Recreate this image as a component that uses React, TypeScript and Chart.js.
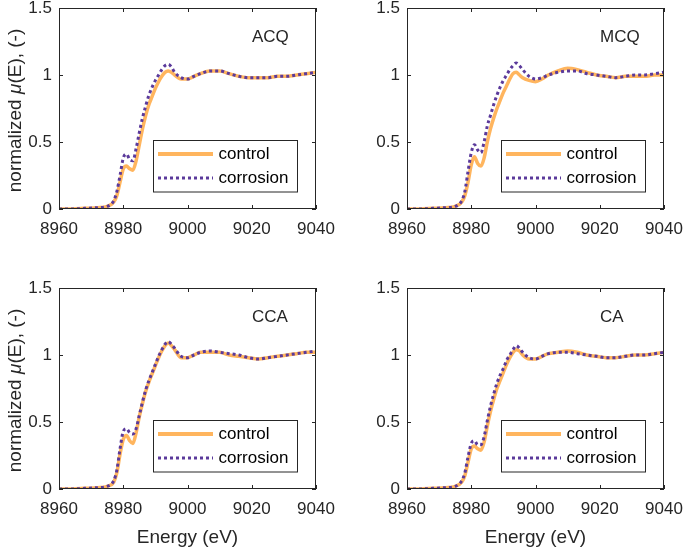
import React, { useEffect, useRef } from "react";
import { Chart, registerables } from "chart.js";

Chart.register(...registerables);

// ---------- data ----------
const energy = [
  8960, 8964, 8968, 8972, 8975, 8977, 8978, 8979, 8980, 8981, 8982, 8983, 8984, 8985, 8986, 8987,
  8988, 8989, 8990, 8991, 8992, 8993, 8994, 8995, 8996, 8998, 9000, 9002, 9004, 9007, 9010, 9013,
  9016, 9019, 9022, 9025, 9028, 9031, 9034, 9037, 9040,
];

const acqControl = [
  0, 0, 0.005, 0.01, 0.02, 0.05, 0.1, 0.2, 0.3, 0.32, 0.3, 0.29, 0.36, 0.48, 0.6, 0.7,
  0.78, 0.84, 0.9, 0.95, 0.99, 1.02, 1.03, 1.02, 1.0, 0.97, 0.97, 0.99, 1.01, 1.03, 1.03, 1.01,
  0.99, 0.98, 0.98, 0.98, 0.99, 0.99, 1.0, 1.01, 1.02,
];
const acqCorrosion = [
  0, 0, 0.005, 0.01, 0.02, 0.06, 0.13, 0.25, 0.38, 0.41, 0.37, 0.36, 0.45, 0.57, 0.68, 0.77,
  0.85, 0.91, 0.96, 1.0, 1.04, 1.07, 1.08, 1.06, 1.02, 0.98, 0.97, 0.99, 1.01, 1.03, 1.03, 1.01,
  0.99, 0.98, 0.98, 0.98, 0.99, 0.99, 1.0, 1.01, 1.02,
];

const mcqControl = [
  0, 0, 0.005, 0.01, 0.02, 0.05, 0.1, 0.2, 0.33, 0.39, 0.34, 0.32, 0.38, 0.5, 0.6, 0.68,
  0.75, 0.81, 0.87, 0.92, 0.97, 1.01, 1.02, 1.0, 0.98, 0.96, 0.95, 0.97, 1.0, 1.03, 1.05, 1.04,
  1.02, 1.0, 0.99, 0.98, 0.99, 0.99, 0.99, 1.0, 1.0,
];
const mcqCorrosion = [
  0, 0, 0.005, 0.01, 0.02, 0.06, 0.13, 0.28, 0.42, 0.48, 0.44, 0.42, 0.5, 0.62, 0.7, 0.78,
  0.85, 0.91, 0.96, 1.0, 1.04, 1.07, 1.09, 1.07, 1.04, 0.99, 0.97, 0.98, 1.0, 1.02, 1.03, 1.03,
  1.01, 1.0, 0.99, 0.98, 0.99, 1.0, 1.0, 1.01, 1.02,
];

const ccaControl = [
  0, 0, 0.005, 0.01, 0.02, 0.05, 0.12, 0.26, 0.37, 0.4, 0.36, 0.34, 0.42, 0.54, 0.64, 0.73,
  0.8, 0.86, 0.92, 0.98, 1.03, 1.07, 1.09, 1.07, 1.04, 0.98, 0.98, 1.0, 1.02, 1.02, 1.02, 1.0,
  0.99, 0.98, 0.97, 0.98, 0.99, 1.0, 1.01, 1.02, 1.02,
];
const ccaCorrosion = [
  0, 0, 0.005, 0.01, 0.02, 0.06, 0.14, 0.3, 0.43, 0.45, 0.42, 0.41, 0.45, 0.55, 0.65, 0.74,
  0.81, 0.87, 0.93, 0.99, 1.04, 1.08, 1.1, 1.08, 1.05, 0.99, 0.98, 1.0, 1.02, 1.03, 1.02, 1.01,
  1.0, 0.98, 0.97, 0.98, 0.99, 1.0, 1.01, 1.02, 1.03,
];

const caControl = [
  0, 0, 0.005, 0.01, 0.02, 0.05, 0.1, 0.2, 0.3, 0.32, 0.3, 0.29, 0.35, 0.47, 0.58, 0.67,
  0.75, 0.81, 0.87, 0.93, 0.98, 1.02, 1.04, 1.03, 1.0, 0.97, 0.97, 0.99, 1.01, 1.02, 1.03, 1.02,
  1.0, 0.99, 0.98, 0.98, 0.99, 1.0, 1.0, 1.01, 1.02,
];
const caCorrosion = [
  0, 0, 0.005, 0.01, 0.02, 0.06, 0.12, 0.24, 0.34, 0.36, 0.33, 0.33, 0.39, 0.51, 0.62, 0.71,
  0.79, 0.85, 0.9, 0.96, 1.0, 1.04, 1.07, 1.05, 1.02, 0.98, 0.97, 0.99, 1.01, 1.02, 1.02, 1.01,
  1.0, 0.99, 0.98, 0.98, 0.99, 1.0, 1.0, 1.01, 1.02,
];

const panelLabels = ["ACQ", "MCQ", "CCA", "CA"];
const seriesNames = ["control", "corrosion"];
const xTicks = [8960, 8980, 9000, 9020, 9040];
const yTicks = [0, 0.5, 1, 1.5];
const xTitle = "Energy (eV)";
const yTitleParts = ["normalized ", "\u03BC", "(E), (-)"];

// ---------- style ----------
const FONT = '"Liberation Sans", Arial, Helvetica, sans-serif';
const INK = "#262626";
const ORANGE = "#FFB55E";
const PURPLE = "#5B3A9B";

type PanelCfg = {
  label: string;
  control: number[];
  corrosion: number[];
  left: number;
  top: number;
  width: number;
  height: number;
  padTop: number;
  padRight: number;
  yAxisW: number;
  xAxisH: number;
  showYTitle: boolean;
  showXTitle: boolean;
};

function Panel(p: PanelCfg) {
  const ref = useRef<HTMLCanvasElement | null>(null);

  useEffect(() => {
    if (!ref.current) return;

    const deco = {
      id: "panelDeco",
      afterDraw(chart: any) {
        const ctx = chart.ctx as CanvasRenderingContext2D;
        const ca = chart.chartArea;
        const xs = chart.scales.x;
        const ys = chart.scales.y;
        ctx.save();
        // box
        ctx.strokeStyle = INK;
        ctx.lineWidth = 1;
        ctx.strokeRect(ca.left + 0.5, ca.top + 0.5, ca.right - ca.left - 1, ca.bottom - ca.top - 1);
        // inward ticks
        const tl = 4;
        ctx.beginPath();
        xTicks.forEach((v) => {
          const px = Math.round(xs.getPixelForValue(v)) + 0.5;
          ctx.moveTo(px, ca.bottom);
          ctx.lineTo(px, ca.bottom - tl);
          ctx.moveTo(px, ca.top);
          ctx.lineTo(px, ca.top + tl);
        });
        yTicks.forEach((v) => {
          const py = Math.round(ys.getPixelForValue(v)) + 0.5;
          ctx.moveTo(ca.left, py);
          ctx.lineTo(ca.left + tl, py);
          ctx.moveTo(ca.right, py);
          ctx.lineTo(ca.right - tl, py);
        });
        ctx.stroke();

        // panel label
        ctx.fillStyle = INK;
        ctx.font = `17px ${FONT}`;
        ctx.textAlign = "left";
        ctx.textBaseline = "alphabetic";
        ctx.fillText(p.label, ca.left + 193, ca.top + 34);

        // legend
        const lx = ca.left + 94;
        const ly = ca.bottom - 69;
        const lw = 144;
        const lh = 51.5;
        ctx.fillStyle = "#ffffff";
        ctx.fillRect(lx, ly, lw, lh);
        ctx.strokeStyle = INK;
        ctx.lineWidth = 1;
        ctx.strokeRect(Math.round(lx) + 0.5, Math.round(ly) + 0.5, lw, lh);
        const rows = [
          { name: seriesNames[0], color: ORANGE, dash: [] as number[], w: 3.8, y: ca.bottom - 55 },
          { name: seriesNames[1], color: PURPLE, dash: [3, 3], w: 3, y: ca.bottom - 31 },
        ];
        rows.forEach((r) => {
          ctx.beginPath();
          ctx.strokeStyle = r.color;
          ctx.lineWidth = r.w;
          ctx.setLineDash(r.dash);
          ctx.moveTo(ca.left + 99, r.y);
          ctx.lineTo(ca.left + 154, r.y);
          ctx.stroke();
          ctx.setLineDash([]);
          ctx.fillStyle = "#000000";
          ctx.font = `17px ${FONT}`;
          ctx.textBaseline = "middle";
          ctx.fillText(r.name, ca.left + 159.5, r.y);
        });

        // x title
        if (p.showXTitle) {
          ctx.fillStyle = INK;
          ctx.font = `19px ${FONT}`;
          ctx.textAlign = "center";
          ctx.textBaseline = "alphabetic";
          ctx.fillText(xTitle, (ca.left + ca.right) / 2, ca.bottom + 54);
        }

        // y title with italic mu
        if (p.showYTitle) {
          const fonts = [`19px ${FONT}`, `italic 19px ${FONT}`, `19px ${FONT}`];
          const widths = yTitleParts.map((t, i) => {
            ctx.font = fonts[i];
            return ctx.measureText(t).width;
          });
          const total = widths.reduce((a, b) => a + b, 0);
          ctx.translate(21, (ca.top + ca.bottom) / 2 + 2);
          ctx.rotate(-Math.PI / 2);
          ctx.fillStyle = INK;
          ctx.textAlign = "left";
          ctx.textBaseline = "alphabetic";
          let x = -total / 2;
          yTitleParts.forEach((t, i) => {
            ctx.font = fonts[i];
            ctx.fillText(t, x, 0);
            x += widths[i];
          });
        }
        ctx.restore();
      },
    };

    const chart = new Chart(ref.current, {
      type: "line",
      data: {
        datasets: [
          {
            label: seriesNames[0],
            data: energy.map((x, i) => ({ x, y: p.control[i] })),
            borderColor: ORANGE,
            backgroundColor: ORANGE,
            borderWidth: 3.5,
            pointRadius: 0,
            cubicInterpolationMode: "monotone",
            order: 1,
          },
          {
            label: seriesNames[1],
            data: energy.map((x, i) => ({ x, y: p.corrosion[i] })),
            borderColor: PURPLE,
            backgroundColor: PURPLE,
            borderWidth: 3,
            borderDash: [3, 3],
            pointRadius: 0,
            cubicInterpolationMode: "monotone",
            order: 0,
          },
        ],
      },
      options: {
        animation: false,
        responsive: false,
        events: [],
        layout: { padding: { top: p.padTop, right: p.padRight, left: 0, bottom: 0 } },
        plugins: {
          legend: { display: false },
          tooltip: { enabled: false },
          title: { display: false },
        },
        scales: {
          x: {
            type: "linear",
            min: 8960,
            max: 9040,
            afterBuildTicks: (s: any) => {
              s.ticks = xTicks.map((v) => ({ value: v }));
            },
            grid: { display: false, drawTicks: false, tickLength: 0 },
            border: { display: false },
            ticks: {
              font: { family: FONT, size: 17 },
              color: INK,
              padding: 10,
              maxRotation: 0,
              autoSkip: false,
              callback: (v: any) => String(v),
            },
            afterFit: (s: any) => {
              s.height = p.xAxisH;
              s.paddingLeft = 0;
              s.paddingRight = 0;
            },
          },
          y: {
            type: "linear",
            min: 0,
            max: 1.5,
            afterBuildTicks: (s: any) => {
              s.ticks = yTicks.map((v) => ({ value: v }));
            },
            grid: { display: false, drawTicks: false, tickLength: 0 },
            border: { display: false },
            ticks: {
              font: { family: FONT, size: 17 },
              color: INK,
              padding: 7,
              callback: (v: any) => String(v),
            },
            afterFit: (s: any) => {
              s.width = p.yAxisW;
              s.paddingTop = 0;
              s.paddingBottom = 0;
            },
          },
        },
      } as any,
      plugins: [deco],
    });

    return () => chart.destroy();
  }, []);

  return (
    <div style={{ position: "absolute", left: p.left, top: p.top, width: p.width, height: p.height }}>
      <canvas ref={ref} width={p.width} height={p.height} style={{ width: p.width, height: p.height, display: "block" }} />
    </div>
  );
}

export default function App() {
  useEffect(() => {
    document.body.style.margin = "0";
    document.body.style.background = "#ffffff";
  }, []);

  const panels: PanelCfg[] = [
    {
      label: panelLabels[0], control: acqControl, corrosion: acqCorrosion,
      left: 0, top: 0, width: 342, height: 270, padTop: 8, padRight: 26, yAxisW: 59, xAxisH: 61,
      showYTitle: true, showXTitle: false,
    },
    {
      label: panelLabels[1], control: mcqControl, corrosion: mcqCorrosion,
      left: 342, top: 0, width: 343, height: 270, padTop: 8, padRight: 21, yAxisW: 65, xAxisH: 61,
      showYTitle: false, showXTitle: false,
    },
    {
      label: panelLabels[2], control: ccaControl, corrosion: ccaCorrosion,
      left: 0, top: 270, width: 342, height: 278, padTop: 18, padRight: 26, yAxisW: 59, xAxisH: 59,
      showYTitle: true, showXTitle: true,
    },
    {
      label: panelLabels[3], control: caControl, corrosion: caCorrosion,
      left: 342, top: 270, width: 343, height: 278, padTop: 18, padRight: 21, yAxisW: 65, xAxisH: 59,
      showYTitle: false, showXTitle: true,
    },
  ];

  return (
    <div style={{ position: "relative", width: 685, height: 548, background: "#ffffff", overflow: "hidden" }}>
      {panels.map((p) => (
        <Panel key={p.label} {...p} />
      ))}
    </div>
  );
}
